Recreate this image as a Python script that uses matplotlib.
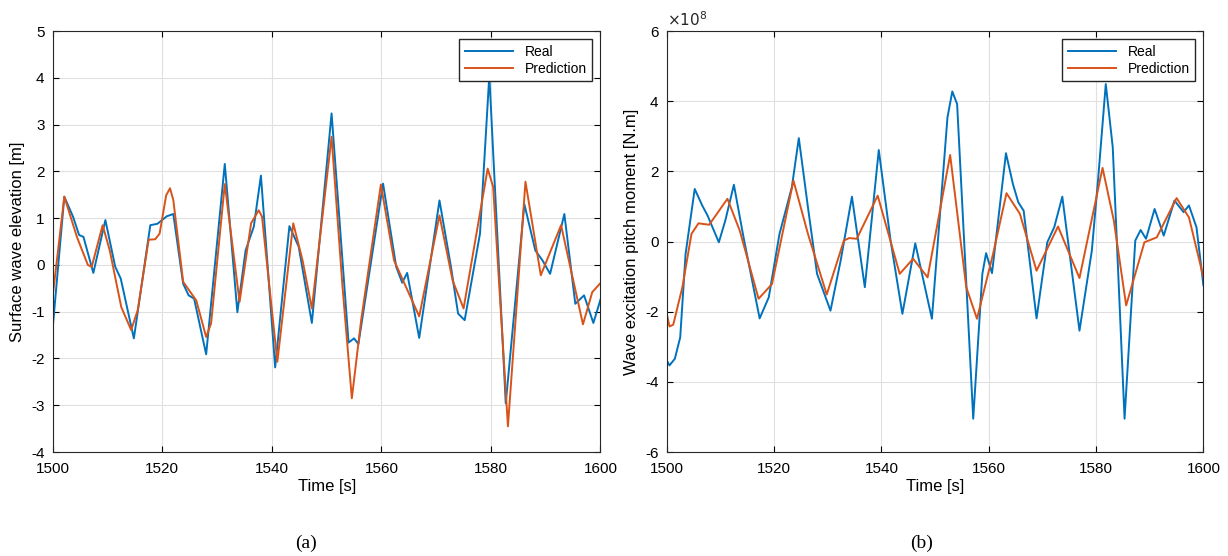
import matplotlib
matplotlib.use("Agg")
import matplotlib.pyplot as plt

# Panel (a): surface wave elevation
ta_real = [1500,1502.1,1503.7,1504.8,1505.6,1507.4,1509.6,1511.4,1512.4,1514.8,1517.8,1519.1,1520.8,1522.0,1523.8,1524.8,1525.8,1528.0,1531.4,1533.7,1535.2,1536.7,1538.0,1540.6,1543.2,1544.9,1547.3,1550.9,1554.0,1555.0,1555.8,1560.3,1562.7,1563.8,1564.7,1566.9,1570.6,1572.7,1574.0,1575.2,1578.0,1579.7,1582.7,1586.1,1588.1,1589.4,1590.8,1593.4,1595.4,1597.0,1598.7,1600]
ya_real = [-1.32,1.46,1.03,0.64,0.6,-0.17,0.96,-0.04,-0.29,-1.57,0.85,0.88,1.04,1.09,-0.4,-0.65,-0.72,-1.91,2.16,-1.01,0.31,0.82,1.91,-2.19,0.83,0.39,-1.24,3.24,-1.66,-1.57,-1.69,1.74,-0.04,-0.38,-0.17,-1.56,1.38,-0.04,-1.04,-1.18,0.67,4.05,-2.96,1.30,0.31,0.10,-0.19,1.09,-0.83,-0.65,-1.24,-0.74]
ta_pred = [1500,1502.1,1504.4,1506.4,1507.1,1509.1,1510.4,1512.5,1514.3,1515.5,1517.5,1518.7,1519.5,1520.7,1521.4,1522.0,1523.8,1526.2,1528.0,1528.9,1531.4,1534.1,1536.2,1537.6,1538.2,1541.0,1543.9,1545.6,1547.3,1550.9,1552.9,1554.6,1556.3,1559.9,1562.3,1566.9,1570.6,1573.0,1575.0,1579.4,1580.4,1583.1,1586.3,1589.1,1592.8,1596.8,1598.5,1599.9]
ya_pred = [-0.65,1.46,0.6,0,-0.04,0.85,0.31,-0.9,-1.39,-0.97,0.54,0.55,0.67,1.49,1.64,1.39,-0.36,-0.76,-1.54,-1.25,1.73,-0.79,0.89,1.17,1.03,-2.07,0.89,0.1,-0.93,2.74,-0.47,-2.85,-1.18,1.72,0.1,-1.1,1.06,-0.33,-0.93,2.06,1.67,-3.45,1.78,-0.22,0.85,-1.27,-0.58,-0.40]

# Panel (b): wave excitation pitch moment (x1e8 N.m)
tb_real = [1500,1500.5,1501.5,1502.5,1503.5,1505.2,1506.6,1507.6,1509.7,1510.9,1512.5,1514.3,1517.3,1519.0,1521.0,1523.3,1524.6,1526.3,1528.0,1530.5,1532.4,1534.5,1536.9,1539.5,1541.7,1543.9,1546.3,1549.4,1552.3,1553.2,1554.1,1557.1,1558.8,1559.5,1560.6,1563.2,1564.5,1565.5,1566.5,1568.9,1570.9,1572.2,1573.7,1576.9,1579.2,1580.4,1581.8,1583.1,1585.3,1587.3,1588.3,1589.3,1590.9,1592.6,1594.6,1596.3,1597.3,1598.7,1600]
yb_real = [-3.39,-3.53,-3.34,-2.73,-0.35,1.5,1.03,0.74,-0.02,0.6,1.62,0.12,-2.19,-1.59,0.22,1.55,2.95,0.98,-0.92,-1.97,-0.54,1.28,-1.3,2.61,0.03,-2.06,-0.05,-2.2,3.54,4.28,3.92,-5.05,-0.92,-0.33,-0.9,2.52,1.64,1.12,0.88,-2.19,-0.02,0.41,1.28,-2.54,-0.26,1.83,4.49,2.69,-5.05,0.03,0.33,0.08,0.93,0.17,1.17,0.84,1.03,0.41,-1.25]
tb_pred = [1500,1500.5,1501.2,1502.9,1504.6,1505.9,1507.9,1511.3,1513.6,1517.1,1519.6,1523.6,1526.3,1529.8,1533.0,1534.0,1535.4,1539.3,1543.4,1545.9,1548.6,1552.8,1555.8,1557.8,1560.8,1563.3,1565.8,1568.9,1572.9,1576.9,1581.2,1583.3,1585.6,1589.0,1591.3,1595.0,1597.3,1600]
yb_pred = [-2.06,-2.42,-2.37,-1.3,0.22,0.52,0.48,1.22,0.31,-1.63,-1.21,1.74,0.22,-1.51,0.03,0.1,0.08,1.31,-0.92,-0.49,-1.02,2.47,-1.3,-2.2,-0.35,1.38,0.79,-0.83,0.43,-1.04,2.1,0.6,-1.82,-0.02,0.12,1.24,0.69,-1.02]

blue = "#0072BD"
orange = "#D95319"
plt.rcParams['font.family'] = ['Liberation Sans', 'DejaVu Sans']
plt.rcParams['axes.unicode_minus'] = False

fig = plt.figure(figsize=(12.28, 5.56), dpi=100)
axa = fig.add_axes([0.043, 0.187, 0.446, 0.757])
axb = fig.add_axes([0.543, 0.187, 0.437, 0.757])

def style(ax):
    ax.set_xlim(1500, 1600)
    ax.set_xticks(range(1500, 1601, 20))
    ax.grid(True, color="#e0e0e0", linewidth=0.8)
    ax.tick_params(direction="in", labelsize=11, top=True, right=True, length=4)
    ax.tick_params(axis="x", pad=7)
    ax.tick_params(axis="y", pad=6)
    for s in ax.spines.values():
        s.set_color("#262626")
        s.set_linewidth(0.8)
    ax.set_xlabel("Time [s]", fontsize=12, labelpad=2)

axa.plot(ta_real, ya_real, color=blue, lw=1.4, label="Real")
axa.plot(ta_pred, ya_pred, color=orange, lw=1.4, label="Prediction")
style(axa)
axa.set_ylim(-4, 5)
axa.set_yticks(range(-4, 6))
axa.set_ylabel("Surface wave elevation [m]", fontsize=12, labelpad=4)
axa.legend(loc="upper right", fontsize=10, fancybox=False, edgecolor="#262626", framealpha=1, handlelength=3.5, borderaxespad=0.6, labelspacing=0.2)

axb.plot(tb_real, [v * 1e8 for v in yb_real], color=blue, lw=1.4, label="Real")
axb.plot(tb_pred, [v * 1e8 for v in yb_pred], color=orange, lw=1.4, label="Prediction")
style(axb)
axb.set_ylim(-6e8, 6e8)
axb.set_yticks([-6e8, -4e8, -2e8, 0, 2e8, 4e8, 6e8])
axb.set_yticklabels(["-6", "-4", "-2", "0", "2", "4", "6"])
axb.text(0.0, 1.005, r"$\times10^{8}$", transform=axb.transAxes, fontsize=11, va="bottom", ha="left", color="#262626")
axb.set_ylabel("Wave excitation pitch moment [N.m]", fontsize=12, labelpad=4)
axb.legend(loc="upper right", fontsize=10, fancybox=False, edgecolor="#262626", framealpha=1, handlelength=3.5, borderaxespad=0.6, labelspacing=0.2)

fig.text(306/1228, 1-543/556, "(a)", fontsize=14, family="Liberation Serif", ha="center", va="center")
fig.text(922/1228, 1-543/556, "(b)", fontsize=14, family="Liberation Serif", ha="center", va="center")

fig.savefig("out.png", dpi=100)
